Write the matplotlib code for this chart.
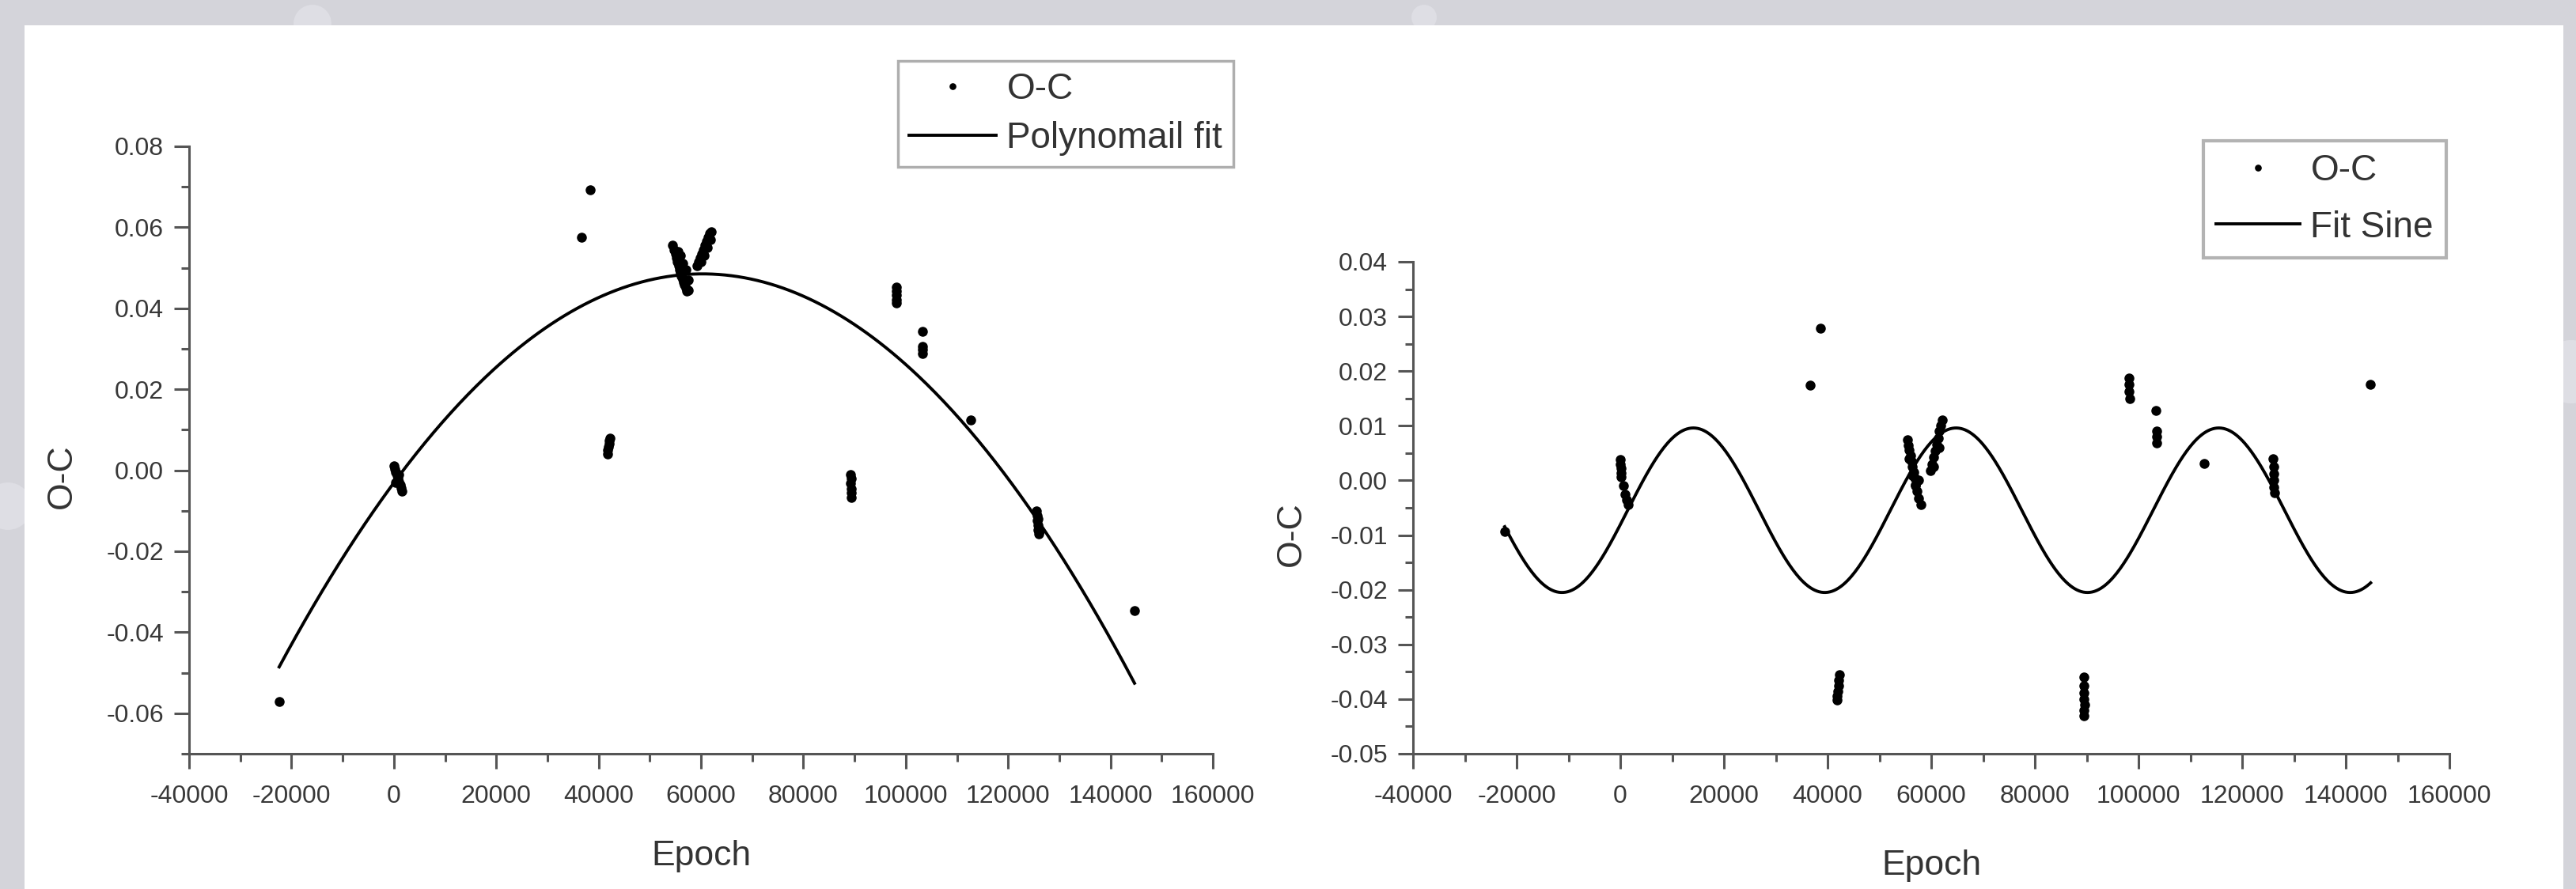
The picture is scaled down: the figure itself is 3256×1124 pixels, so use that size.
import matplotlib
matplotlib.use("Agg")
import matplotlib.pyplot as plt
import numpy as np
from matplotlib.ticker import MultipleLocator, FuncFormatter
from matplotlib.patches import Rectangle, Circle

plt.rcParams['font.family'] = ['Liberation Sans', 'DejaVu Sans']

# ---------------- data: left panel (O-C vs Epoch, polynomial fit) ----------------
left_epoch = [
    -22400,
    0, 200, 400, 600, 800, 1000, 1200, 1400, 1600, 300, 900,
    36600, 38400,
    41700, 41800, 41900, 42000, 42100, 42200,
    54500, 54800, 55000, 55200, 55400, 55600, 55800, 56000, 56200, 56400, 56600,
    56800, 57000, 57200, 55500, 56000, 56500, 57000, 57500, 57500, 56200,
    59300, 59600, 59900, 60200, 60500, 60800, 61100, 61400, 61700, 62000,
    60000, 60600, 61200, 61800,
    89200, 89300, 89250, 89300, 89350, 89300,
    98100, 98150, 98200, 98150, 98200,
    103300, 103250, 103300, 103300,
    112700,
    125600, 125700, 125750, 125800, 125900, 126000, 125800, 126100,
    144700,
]
left_oc = [
    -0.0572,
    0.0010, 0.0003, -0.0005, -0.0012, -0.0020, -0.0028, -0.0036, -0.0044, -0.0052, -0.0030, -0.0010,
    0.0576, 0.0692,
    0.0040, 0.0050, 0.0058, 0.0066, 0.0074, 0.0080,
    0.0555, 0.0545, 0.0535, 0.0525, 0.0515, 0.0505, 0.0495, 0.0488, 0.0480, 0.0472, 0.0465,
    0.0458, 0.0450, 0.0443, 0.0540, 0.0530, 0.0510, 0.0495, 0.0470, 0.0445, 0.0500,
    0.0505, 0.0515, 0.0525, 0.0535, 0.0545, 0.0555, 0.0565, 0.0575, 0.0585, 0.0590,
    0.0515, 0.0530, 0.0550, 0.0570,
    -0.0010, -0.0020, -0.0032, -0.0045, -0.0055, -0.0068,
    0.0452, 0.0443, 0.0433, 0.0422, 0.0414,
    0.0342, 0.0306, 0.0298, 0.0288,
    0.0125,
    -0.0100, -0.0112, -0.0124, -0.0135, -0.0147, -0.0158, -0.0120, -0.0150,
    -0.0347,
]
# quadratic fit parameters (vertex form)
poly_vertex_epoch = 60300
poly_peak_oc = 0.0485
poly_curvature = 1.419e-11
poly_epoch_range = (-22400, 144700)

# ---------------- data: right panel (O-C vs Epoch, sine fit) ----------------
right_epoch = [
    -22300,
    0, 50, 100, 150, 200, 600, 900, 1200, 1500,
    36600, 38700,
    41800, 41900, 42000, 42100, 42200, 42300,
    55400, 55600, 55800, 56000, 56200, 56400, 56600, 56800, 57000, 57300, 57600, 58000,
    55700, 56300, 56900, 57500,
    59800, 60100, 60400, 60700, 61000, 61300, 61600, 61900, 62200, 60500, 61500,
    89400, 89450, 89500, 89500, 89550, 89500, 89450,
    98150, 98200, 98200, 98250,
    103400, 103450, 103450, 103500,
    112600,
    126000, 126050, 126100, 126100, 126150, 126200,
    144800,
]
right_oc = [
    -0.0093,
    0.0038, 0.0030, 0.0022, 0.0014, 0.0006, -0.0010, -0.0025, -0.0035, -0.0044,
    0.0174, 0.0278,
    -0.0402, -0.0394, -0.0385, -0.0375, -0.0365, -0.0355,
    0.0075, 0.0065, 0.0055, 0.0045, 0.0035, 0.0025, 0.0015, 0.0005, -0.0008, -0.0020, -0.0032, -0.0044,
    0.0040, 0.0010, -0.0010, 0.0000,
    0.0018, 0.0030, 0.0042, 0.0054, 0.0066, 0.0078, 0.0090, 0.0100, 0.0110, 0.0025, 0.0060,
    -0.0360, -0.0375, -0.0388, -0.0400, -0.0410, -0.0420, -0.0430,
    0.0188, 0.0175, 0.0162, 0.0150,
    0.0128, 0.0090, 0.0080, 0.0068,
    0.0031,
    0.0039, 0.0025, 0.0012, 0.0000, -0.0012, -0.0023,
    0.0176,
]
# sine fit parameters
sine_offset = -0.00545
sine_amplitude = 0.01505
sine_period = 50700
sine_peak_epoch = 14100
sine_epoch_range = (-22300, 144800)

x_limits = (-40000, 160000)
left_ylim = (-0.07, 0.08)
right_ylim = (-0.05, 0.04)

# ---------------- styling ----------------
W, H = 3256, 1124
fig = plt.figure(figsize=(W / 100, H / 100), dpi=100, facecolor='#d4d4da')

# decorative light circles in the grey frame (display pixel coordinates)
for cx, cy, r in [(1800, 22, 16), (395, 30, 24), (10, 640, 30), (3250, 470, 40)]:
    fig.patches.append(Circle((cx, H - cy), r, transform=None,
                              facecolor='#dedee4', edgecolor='none', zorder=-3))
fig.patches.append(Rectangle((31 / W, 0), (3240 - 31) / W, 1 - 32 / H,
                             transform=fig.transFigure, facecolor='white',
                             edgecolor='none', zorder=-2))

TICK_COLOR = '#383838'
SPINE_COLOR = '#555555'
LABEL_FS = 32
LEGEND_FS = 33


def style_axes(ax, ymajor, yminor):
    ax.set_facecolor('none')
    for s in ('top', 'right'):
        ax.spines[s].set_visible(False)
    for s in ('left', 'bottom'):
        ax.spines[s].set_color(SPINE_COLOR)
        ax.spines[s].set_linewidth(2.2)
    ax.set_xlim(*x_limits)
    ax.xaxis.set_major_locator(MultipleLocator(20000))
    ax.xaxis.set_minor_locator(MultipleLocator(10000))
    ax.yaxis.set_major_locator(MultipleLocator(ymajor))
    ax.yaxis.set_minor_locator(MultipleLocator(yminor))
    ax.xaxis.set_major_formatter(FuncFormatter(lambda v, p: f"{int(round(v))}"))
    ax.yaxis.set_major_formatter(FuncFormatter(
        lambda v, p: "0.00" if abs(v) < 1e-9 else f"{v:.2f}"))
    ax.tick_params(which='major', direction='out', length=14, width=2.2,
                   color=SPINE_COLOR, labelsize=23, labelcolor=TICK_COLOR)
    ax.tick_params(which='minor', direction='out', length=7, width=2.2,
                   color=SPINE_COLOR)
    ax.tick_params(axis='x', which='major', pad=14)
    ax.tick_params(axis='y', which='major', pad=9)
    ax.set_xlabel('Epoch', fontsize=LABEL_FS, color='#333333')
    ax.set_ylabel('O-C', fontsize=LABEL_FS, color='#333333')


def style_legend(leg, edge, lw):
    leg.get_frame().set_edgecolor(edge)
    leg.get_frame().set_linewidth(lw)
    for t in leg.get_texts():
        t.set_color('#333333')


# ---------------- left panel ----------------
axL = fig.add_axes([239 / W, 1 - 953 / H, 1294 / W, 768 / H])
axL.set_ylim(*left_ylim)
style_axes(axL, 0.02, 0.01)
axL.plot(left_epoch, left_oc, 'o', ls='none', ms=8, color='black', label='O-C',
         clip_on=False, zorder=3)
xe = np.linspace(poly_epoch_range[0], poly_epoch_range[1], 400)
axL.plot(xe, poly_peak_oc - poly_curvature * (xe - poly_vertex_epoch) ** 2,
         color='black', lw=2.8, label='Polynomail fit', zorder=2)
axL.xaxis.set_label_coords(0.5, -0.142)
axL.yaxis.set_label_coords(-0.108, 0.457)
legL = axL.legend(loc='upper right', bbox_to_anchor=(1559 / W, 1 - 77 / H),
                  bbox_transform=fig.transFigure, borderaxespad=0, fontsize=LEGEND_FS,
                  frameon=True, fancybox=False, handlelength=2.4,
                  handletextpad=0.3, labelspacing=0.4, borderpad=0.3,
                  markerscale=0.65, numpoints=1)
style_legend(legL, '#9a9a9a', 2.5)

# ---------------- right panel ----------------
axR = fig.add_axes([1786 / W, 1 - 953 / H, 1310 / W, 622 / H])
axR.set_ylim(*right_ylim)
style_axes(axR, 0.01, 0.005)
axR.plot(right_epoch, right_oc, 'o', ls='none', ms=8, color='black', label='O-C',
         clip_on=False, zorder=3)
xs = np.linspace(sine_epoch_range[0], sine_epoch_range[1], 800)
axR.plot(xs, sine_offset + sine_amplitude * np.cos(2 * np.pi * (xs - sine_peak_epoch) / sine_period),
         color='black', lw=2.8, label='Fit Sine', zorder=2)
axR.xaxis.set_label_coords(0.5, -0.195)
axR.yaxis.set_label_coords(-0.1015, 0.447)
legR = axR.legend(loc='upper right', bbox_to_anchor=(3092 / W, 1 - 178 / H),
                  bbox_transform=fig.transFigure, borderaxespad=0, fontsize=LEGEND_FS,
                  frameon=True, fancybox=False, handlelength=2.3,
                  handletextpad=0.3, labelspacing=0.6, borderpad=0.35,
                  markerscale=0.65, numpoints=1)
style_legend(legR, '#a0a0a0', 3)

fig.savefig('out.png', dpi=100, facecolor=fig.get_facecolor())
